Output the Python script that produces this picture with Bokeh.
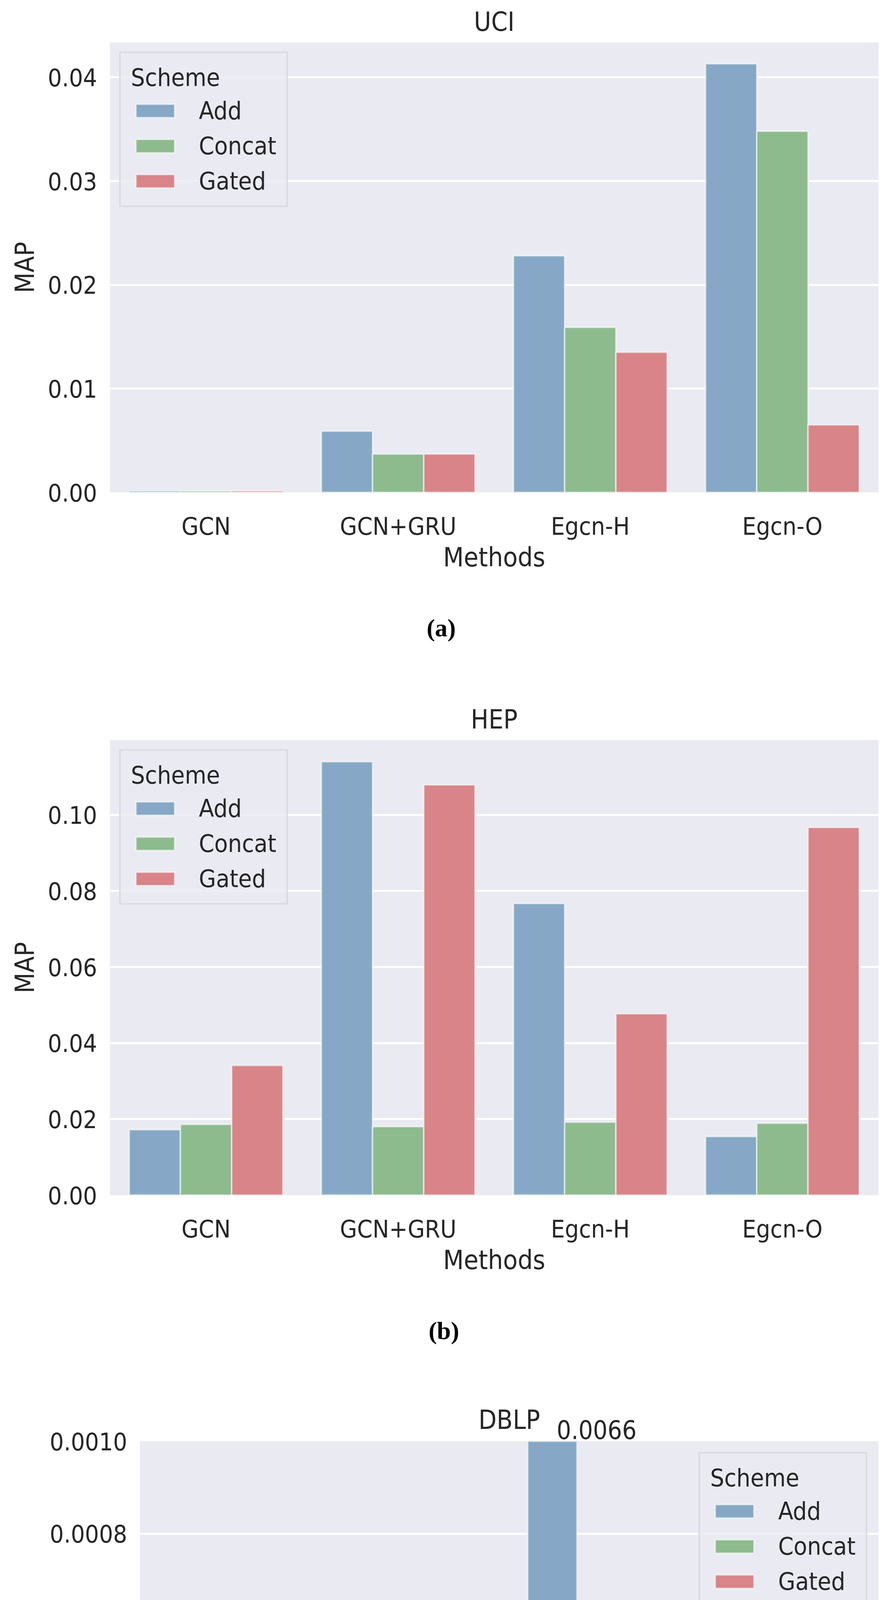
from bokeh.plotting import figure
from bokeh.models import (Range1d, FixedTicker, NumeralTickFormatter, Div,
                          Legend, LegendItem, Title, LinearAxis, ColumnDataSource)
from bokeh.transform import dodge
from bokeh.layouts import column
from bokeh.embed import file_html
from bokeh.resources import INLINE

# ---------------- data ----------------
methods = ["GCN", "GCN+GRU", "Egcn-H", "Egcn-O"]
schemes = ["Add", "Concat", "Gated"]

uci_add = [0.00015, 0.0059, 0.0228, 0.0413]
uci_concat = [0.00015, 0.0037, 0.0159, 0.0348]
uci_gated = [0.00015, 0.0037, 0.0135, 0.0065]

hep_add = [0.0172, 0.1140, 0.0767, 0.0154]
hep_concat = [0.0186, 0.0180, 0.0192, 0.0189]
hep_gated = [0.0341, 0.1079, 0.0477, 0.0967]

dblp_add = [0.000024, 0.000024, 0.0066, 0.000597]
dblp_concat = [0.000021, 0.000026, 0.000023, 0.000198]
dblp_gated = [0.000022, 0.000033, 0.000023, 0.000023]

uci_ticks = [0.0, 0.01, 0.02, 0.03, 0.04]
hep_ticks = [0.0, 0.02, 0.04, 0.06, 0.08, 0.10]
dblp_ticks = [0.0, 0.0002, 0.0004, 0.0006, 0.0008, 0.0010]
dblp_ymax = 0.001

titles = ["UCI", "HEP", "DBLP"]
captions = ["(a)", "(b)", "(c)"]

# ---------------- style ----------------
W = 2262
FONT = "DejaVu Sans Condensed"
TXT = "#262626"
COLORS = ["#86a8c6", "#8dbb8d", "#d88488"]
BG = "#eaeaf2"
BAR_W = 0.8 / 3
OFFS = [-BAR_W, 0.0, BAR_W]
FRAME_RIGHT = 2256
BOTTOM = 240

# category slots on a numeric axis: slot i is centred at i + 0.5
slot = [i + 0.5 for i in range(len(methods))]


def style_axis(ax):
    ax.axis_line_color = None
    ax.major_tick_line_color = None
    ax.minor_tick_line_color = None
    ax.major_tick_out = 0
    ax.major_tick_in = 0
    ax.minor_tick_out = 0
    ax.minor_tick_in = 0
    ax.major_label_text_font = FONT
    ax.major_label_text_font_size = "63px"
    ax.major_label_text_color = TXT
    ax.axis_label_text_font = FONT
    ax.axis_label_text_font_size = "68px"
    ax.axis_label_text_font_style = "normal"
    ax.axis_label_text_color = TXT


def make_panel(title, series, ticks, fmt, y_end, page_top,
               frame_top, frame_bottom, frame_left, legend_loc, legend_margin,
               clipped=None):
    height = frame_bottom + BOTTOM - page_top
    p = figure(x_range=Range1d(0, len(methods)),
               y_range=Range1d(0, y_end),
               width=W, height=height, output_backend="svg",
               toolbar_location=None, title=None,
               min_border_left=frame_left - 8,
               min_border_right=8 + W - FRAME_RIGHT,
               min_border_top=frame_top - page_top,
               min_border_bottom=BOTTOM)
    if "frame_align" in p.properties():
        p.frame_align = False
    p.background_fill_color = BG
    p.border_fill_color = "white"
    p.outline_line_color = None
    p.xgrid.grid_line_color = None
    p.ygrid.grid_line_color = "white"
    p.ygrid.grid_line_width = 5

    data = dict(pos=slot)
    for s, vals in zip(schemes, series):
        data[s] = vals
    src = ColumnDataSource(data)
    rs = []
    for s, off, c in zip(schemes, OFFS, COLORS):
        r = p.vbar(x=dodge("pos", off), top=s, width=BAR_W,
                   source=src, fill_color=c, line_color="white",
                   line_alpha=0.55, line_width=4)
        rs.append(r)

    p.xaxis.ticker = FixedTicker(ticks=slot)
    p.xaxis.major_label_overrides = {x: m for x, m in zip(slot, methods)}
    p.yaxis.ticker = FixedTicker(ticks=ticks)
    p.yaxis.formatter = NumeralTickFormatter(format=fmt)
    p.xaxis.axis_label = "Methods"
    p.yaxis.axis_label = "MAP"
    style_axis(p.xaxis[0])
    style_axis(p.yaxis[0])
    p.xaxis.major_label_standoff = 50
    p.xaxis.axis_label_standoff = 0
    p.yaxis.major_label_standoff = 33
    p.yaxis.axis_label_standoff = 16

    legend = Legend(items=[LegendItem(label=s, renderers=[r]) for s, r in zip(schemes, rs)],
                    title="Scheme", location=legend_loc, margin=legend_margin,
                    orientation="vertical")
    legend.title_text_font = FONT
    legend.title_text_font_size = "63px"
    legend.title_text_font_style = "normal"
    legend.title_text_color = TXT
    legend.title_standoff = 12
    legend.label_text_font = FONT
    legend.label_text_font_size = "63px"
    legend.label_text_color = TXT
    legend.glyph_width = 124
    legend.glyph_height = 43
    legend.label_standoff = 50
    legend.spacing = 17
    legend.padding = 26
    legend.border_line_color = "#cccccc"
    legend.border_line_width = 4
    legend.background_fill_color = BG
    legend.background_fill_alpha = 0.8
    p.add_layout(legend)

    if clipped is None:
        t = Title(text=title, align="center", vertical_align="bottom", standoff=28,
                  text_font=FONT, text_font_size="67px", text_font_style="normal",
                  text_color=TXT)
        p.add_layout(t, "above")
    else:
        # value of the bar that runs off the top, written above it; panel title as axis label
        i = clipped
        v = series[0][i]
        lab = f"{v:.4f}"
        xpos = slot[i] + OFFS[0] + 0.24
        ax = LinearAxis(ticker=FixedTicker(ticks=[xpos]),
                        major_label_overrides={xpos: lab}, axis_label=title)
        style_axis(ax)
        ax.major_label_text_font_size = "65px"
        ax.axis_label_text_font_size = "67px"
        ax.major_label_standoff = 6
        ax.axis_label_standoff = -42
        p.add_layout(ax, "above")
    return p


def caption_div(text, left, page_top, page_bottom, frame_bottom):
    pad_top = frame_bottom + 311 - page_top
    html = ('<div style="padding-top:%dpx; margin-left:%dpx; font-family:\'Liberation Serif\';'
            ' font-weight:bold; font-size:64px; line-height:1; color:black;">%s</div>'
            % (pad_top, left - 8, text))
    return Div(text=html, width=W, height=page_bottom - page_top)


p1 = make_panel(titles[0], [uci_add, uci_concat, uci_gated], uci_ticks, "0.00",
                max(uci_add + uci_concat + uci_gated) * 1.05,
                page_top=8, frame_top=104, frame_bottom=1268, frame_left=289,
                legend_loc="top_left", legend_margin=24)
d1 = caption_div(captions[0], 1095, 1268 + BOTTOM, 1660, 1268)
p2 = make_panel(titles[1], [hep_add, hep_concat, hep_gated], hep_ticks, "0.00",
                max(hep_add + hep_concat + hep_gated) * 1.05,
                page_top=1660, frame_top=1892, frame_bottom=3057, frame_left=289,
                legend_loc="top_left", legend_margin=24)
d2 = caption_div(captions[1], 1100, 3057 + BOTTOM, 3440, 3057)
p3 = make_panel(titles[2], [dblp_add, dblp_concat, dblp_gated], dblp_ticks, "0.0000",
                dblp_ymax,
                page_top=3440, frame_top=3677, frame_bottom=4860, frame_left=366,
                legend_loc="top_right", legend_margin=28,
                clipped=dblp_add.index(max(dblp_add)))
d3 = caption_div(captions[2], 1104, 4860 + BOTTOM, 5241, 4860)

layout = column(p1, d1, p2, d2, p3, d3, spacing=0)
open("out.html", "w").write(file_html(layout, INLINE))
